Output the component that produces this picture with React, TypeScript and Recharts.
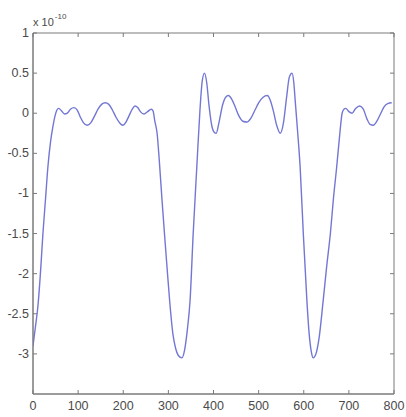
import React from "react";
import { LineChart, Line, XAxis, YAxis, ReferenceArea } from "recharts";

const xValues: number[] = [
  0, 5, 11, 17, 22, 28, 33, 39, 44, 49, 53, 57, 63, 70, 76, 83, 91, 98, 105, 112,
  120, 128, 136, 144, 152, 160, 168, 176, 184, 192, 199, 206, 213, 220, 226, 232, 238, 246, 254, 262,
  266, 270, 275, 280, 286, 292, 297, 303, 310, 316, 322, 330, 336, 342, 348, 355, 363, 370, 375, 380,
  385, 390, 396, 402, 406, 412, 420, 427, 433, 440, 448, 456, 465, 474, 483, 492, 500, 510, 519, 526,
  533, 540, 548, 555, 562, 568, 574, 578, 581, 586, 592, 599, 607, 612, 617, 621, 627, 634, 643, 651,
  659, 666, 673, 680, 685, 689, 693, 700, 707, 715, 724, 732, 740, 747, 754, 762, 770, 778, 786, 795,
];

const yValues: number[] = [
  -2.9, -2.68, -2.4, -1.95, -1.5, -1.05, -0.67, -0.35, -0.17, -0.03, 0.04, 0.06, 0.03, -0.01, 0.0, 0.05, 0.07, 0.04, -0.05, -0.12,
  -0.15, -0.12, -0.04, 0.05, 0.11, 0.13, 0.11, 0.04, -0.05, -0.12, -0.15, -0.11, -0.03, 0.05, 0.09, 0.07, 0.02, -0.01, 0.02, 0.05,
  0.03, -0.1, -0.25, -0.6, -1.09, -1.55, -1.92, -2.35, -2.75, -2.93, -3.02, -3.05, -2.95, -2.7, -2.34, -1.5, -0.67, 0.04, 0.4, 0.5,
  0.38, 0.1, -0.15, -0.24, -0.25, -0.12, 0.1, 0.2, 0.22, 0.18, 0.08, -0.03, -0.1, -0.11, -0.06, 0.04, 0.13, 0.2, 0.22, 0.16,
  0.02, -0.15, -0.25, -0.12, 0.2, 0.45, 0.5, 0.38, 0.16, -0.2, -0.67, -1.5, -2.34, -2.75, -2.98, -3.05, -3.0, -2.8, -2.34, -1.9,
  -1.5, -1.05, -0.67, -0.25, 0.0, 0.05, 0.06, 0.02, 0.0, 0.06, 0.09, 0.05, -0.07, -0.14, -0.15, -0.1, -0.01, 0.08, 0.12, 0.13,
];

const xTicks: number[] = [0, 100, 200, 300, 400, 500, 600, 700, 800];
const yTicks: number[] = [-3, -2.5, -2, -1.5, -1, -0.5, 0, 0.5, 1];
const exponentBase = "x 10";
const exponentPower = "-10";

const data = xValues.map((x, i) => ({ x, y: yValues[i] }));

const W = 406;
const H = 417;
const M = { top: 33, right: 12, left: 0, bottom: 0 };
const YW = 33;
const XH = 23;
const PW = W - M.left - M.right - YW;
const PH = H - M.top - M.bottom - XH;
const AXIS = "#7a7a7a";
const TXT = "#4a4a4a";
const FONT = "'Liberation Sans Narrow', 'Arial Narrow', 'Liberation Sans', Arial, sans-serif";

const XTick = (props: any) => {
  const { x, y, payload } = props;
  return (
    <g>
      <line x1={x} y1={y} x2={x} y2={y - 4} stroke={AXIS} />
      <line x1={x} y1={y - PH} x2={x} y2={y - PH + 4} stroke={AXIS} />
      <text x={x} y={y + 16} textAnchor="middle" fontSize={12.5} fill={TXT} fontFamily={FONT}>
        {String(payload.value)}
      </text>
    </g>
  );
};

const YTick = (props: any) => {
  const { x, y, payload } = props;
  return (
    <g>
      <line x1={x} y1={y} x2={x + 4} y2={y} stroke={AXIS} />
      <line x1={x + PW} y1={y} x2={x + PW - 4} y2={y} stroke={AXIS} />
      <text x={x - 4} y={y + 4} textAnchor="end" fontSize={12.5} fill={TXT} fontFamily={FONT}>
        {String(payload.value)}
      </text>
    </g>
  );
};

export default function App() {
  return (
    <div style={{ position: "absolute", left: 0, top: 0, width: W, height: H, background: "#fff" }}>
      <LineChart width={W} height={H} data={data} margin={M}>
        <XAxis
          dataKey="x"
          type="number"
          domain={[0, 800]}
          ticks={xTicks}
          height={XH}
          tickSize={0}
          tickMargin={0}
          tickLine={false}
          axisLine={{ stroke: AXIS }}
          tick={<XTick />}
          interval={0}
          allowDataOverflow
        />
        <YAxis
          dataKey="y"
          type="number"
          domain={[-3.5, 1]}
          ticks={yTicks}
          width={YW}
          tickSize={0}
          tickMargin={0}
          tickLine={false}
          axisLine={{ stroke: AXIS }}
          tick={<YTick />}
          interval={0}
          allowDataOverflow
        />
        <ReferenceArea x1={0} x2={800} y1={-3.5} y2={1} fill="none" stroke={AXIS} strokeWidth={1} />
        <Line
          type="monotone"
          dataKey="y"
          stroke="#7377d4"
          strokeWidth={1.4}
          dot={false}
          isAnimationActive={false}
        />
      </LineChart>
      <div
        style={{
          position: "absolute",
          left: 33,
          top: 16,
          fontFamily: FONT,
          fontSize: 11,
          color: TXT,
          lineHeight: "12px",
          whiteSpace: "nowrap",
        }}
      >
        {exponentBase}
        <span style={{ fontSize: 8, position: "relative", top: -7, marginLeft: 1 }}>{exponentPower}</span>
      </div>
    </div>
  );
}
